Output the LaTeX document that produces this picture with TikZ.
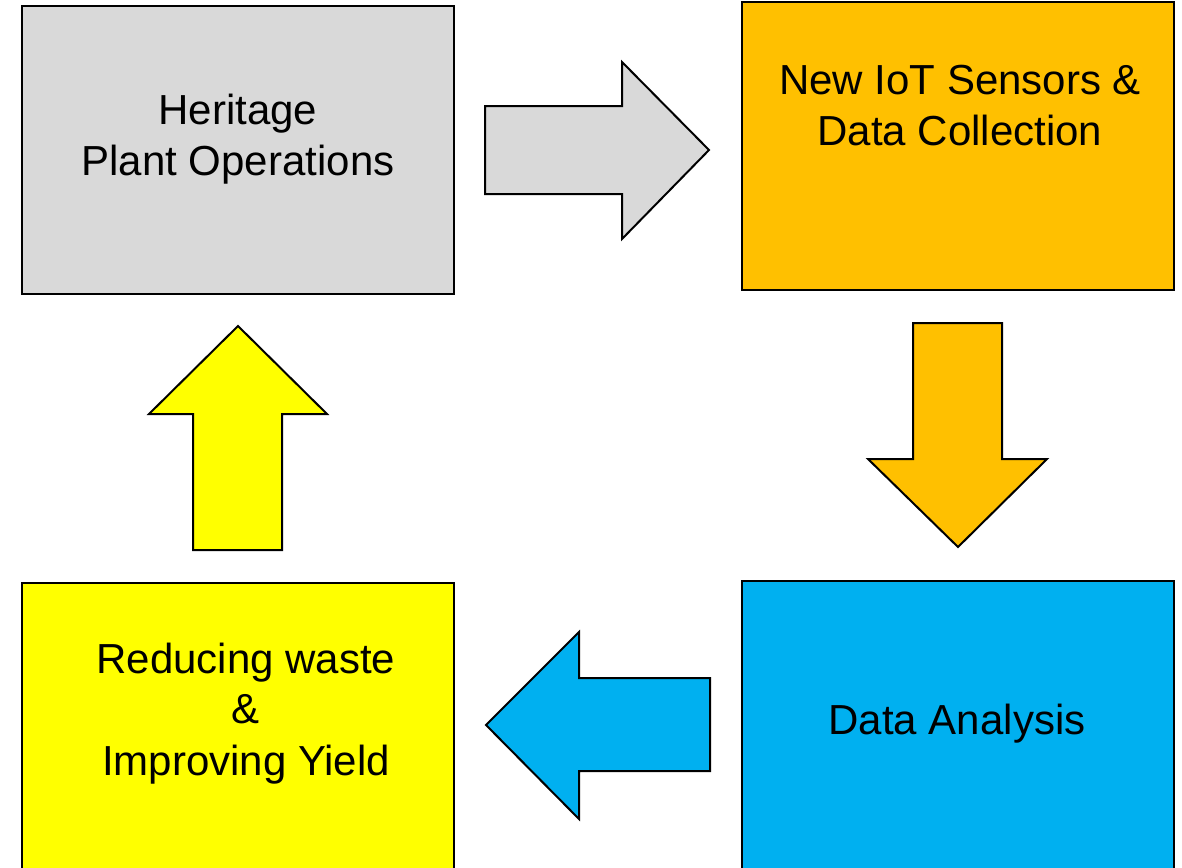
\documentclass[tikz,border=0pt]{standalone}
\usepackage{fontspec}
\setmainfont{Liberation Sans}
\definecolor{cgrey}{HTML}{D9D9D9}
\definecolor{corange}{HTML}{FFC000}
\definecolor{cblue}{HTML}{00B0F0}
\definecolor{cyellow}{HTML}{FFFF00}
\tikzset{
  blockbox/.style={draw=black, line width=2pt, rectangle, inner sep=0pt, outer sep=0pt, anchor=north west},
  blockarrow/.style={draw=black, line width=2pt, line join=miter},
  lbl/.style={anchor=base, inner sep=0pt, font=\fontsize{42}{51}\selectfont}
}
\begin{document}
\begin{tikzpicture}[x=1pt,y=-1pt]
\useasboundingbox (0,0) rectangle (1182,867);
\clip (0,0) rectangle (1182,867);
% boxes
\node[blockbox, fill=cgrey, minimum width=432pt, minimum height=287pt] (heritage) at (21.5,6.5) {};
\node[blockbox, fill=corange, minimum width=432pt, minimum height=287pt] (iot) at (741.5,2.5) {};
\node[blockbox, fill=cblue, minimum width=432pt, minimum height=320pt] (analysis) at (741.5,580.5) {};
\node[blockbox, fill=cyellow, minimum width=432pt, minimum height=320pt] (yield) at (21.5,582.5) {};
% labels
\node[lbl] (h1) at (238,124) {Heritage};
\node[lbl] (h2) at (238,175) {Plant Operations};
\node[lbl] (i1) at (960,94) {New IoT Sensors \&};
\node[lbl] (i2) at (960,145) {Data Collection};
\node[lbl] (a1) at (957,734) {Data Analysis};
\node[lbl] (y1) at (246,673) {Reducing waste};
\node[lbl] (y2) at (246,723) {\&};
\node[lbl] (y3) at (246,775) {Improving Yield};
% block arrows
\draw[blockarrow, fill=cgrey] (485,106) -- (622,106) -- (622,62) -- (709,150) -- (622,239) -- (622,194) -- (485,194) -- cycle;
\draw[blockarrow, fill=corange] (913,323) -- (1002,323) -- (1002,459) -- (1047,459) -- (958,547) -- (868,459) -- (913,459) -- cycle;
\draw[blockarrow, fill=cblue] (710,678) -- (579,678) -- (579,632) -- (486,725) -- (579,819) -- (579,771) -- (710,771) -- cycle;
\draw[blockarrow, fill=cyellow] (193,550) -- (193,414) -- (149,414) -- (238,326) -- (327,414) -- (282,414) -- (282,550) -- cycle;
\end{tikzpicture}
\end{document}
